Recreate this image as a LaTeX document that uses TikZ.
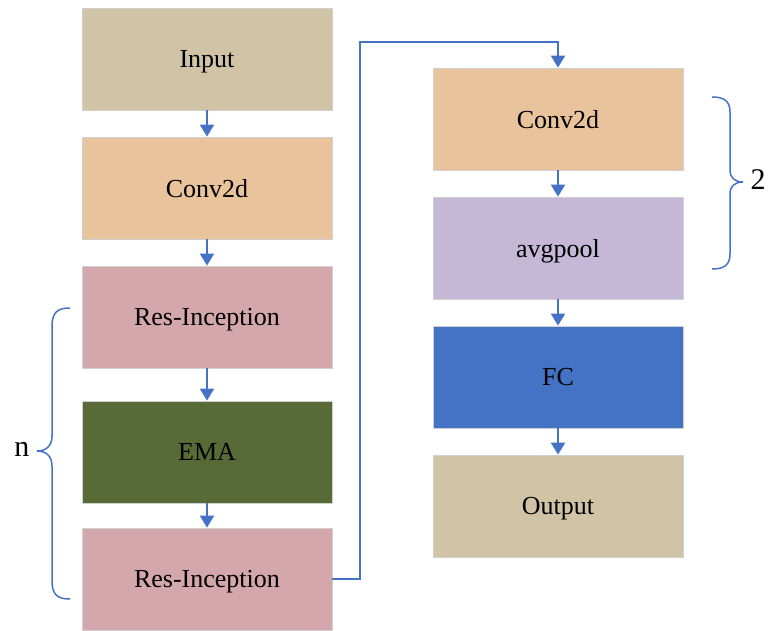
\documentclass[tikz,border=0pt]{standalone}
\usepackage{fontspec}
\setmainfont{Liberation Serif}
\usetikzlibrary{arrows.meta}
\definecolor{tanc}{HTML}{D1C4A6}
\definecolor{convc}{HTML}{E9C39C}
\definecolor{resc}{HTML}{D4A7AD}
\definecolor{emac}{HTML}{586A35}
\definecolor{avgc}{HTML}{C5B8D7}
\definecolor{fcc}{HTML}{4472C4}
\definecolor{linec}{HTML}{4472C4}
\definecolor{bordc}{HTML}{D0D0D0}
\begin{document}
\begin{tikzpicture}[x=1pt,y=-1pt,
  blk/.style={draw=bordc,line width=0.8pt,minimum width=250pt,minimum height=102pt,inner sep=0pt,text depth=0pt,font=\fontsize{26}{30}\selectfont},
  arr/.style={draw=linec,line width=2pt,-{Triangle[width=14pt,length=12pt]}},
  brc/.style={draw=linec,line width=1.5pt}]
\useasboundingbox (0,0) rectangle (768,631);
\node[blk,fill=tanc] (in) at (207,59) {Input};
\node[blk,fill=convc] (c1) at (207,188) {Conv2d};
\node[blk,fill=resc] (r1) at (207,317) {Res-Inception};
\node[blk,fill=emac] (ema) at (207,452) {EMA};
\node[blk,fill=resc] (r2) at (207,579) {Res-Inception};
\node[blk,fill=convc] (c2) at (558,119) {Conv2d};
\node[blk,fill=avgc] (ap) at (558,248) {avgpool};
\node[blk,fill=fcc] (fc) at (558,377) {FC};
\node[blk,fill=tanc] (out) at (558,506) {Output};
\draw[arr] (in) -- (c1);
\draw[arr] (c1) -- (r1);
\draw[arr] (r1) -- (ema);
\draw[arr] (ema) -- (r2);
\draw[arr] (c2) -- (ap);
\draw[arr] (ap) -- (fc);
\draw[arr] (fc) -- (out);
\coordinate (k1) at (360,579);
\coordinate (k2) at (360,42);
\coordinate (k3) at (558,42);
\draw[arr] (r2.east) -- (k1) -- (k2) -- (k3) -- (c2.north);
% left brace
\coordinate (lt) at (70,308);
\coordinate (lb) at (70,599);
\coordinate (lm) at (37,451);
\draw[brc] (lt) .. controls (58,308) and (52,312) .. (52,326) -- (52,436)
  .. controls (52,446) and (46,451) .. (lm)
  .. controls (46,451) and (52,456) .. (52,466) -- (52,581)
  .. controls (52,595) and (58,599) .. (lb);
\node[font=\fontsize{30}{34}\selectfont,anchor=east] (nl) at (33,449) {n};
% right brace
\coordinate (rt) at (712,97);
\coordinate (rb) at (712,269);
\coordinate (rm) at (743,182);
\draw[brc] (rt) .. controls (724,97) and (730,101) .. (730,112) -- (730,170)
  .. controls (730,178) and (735,182) .. (rm)
  .. controls (735,182) and (730,186) .. (730,194) -- (730,254)
  .. controls (730,265) and (724,269) .. (rb);
\node[font=\fontsize{30}{34}\selectfont,anchor=west] (tw) at (747,180) {2};
\end{tikzpicture}
\end{document}
